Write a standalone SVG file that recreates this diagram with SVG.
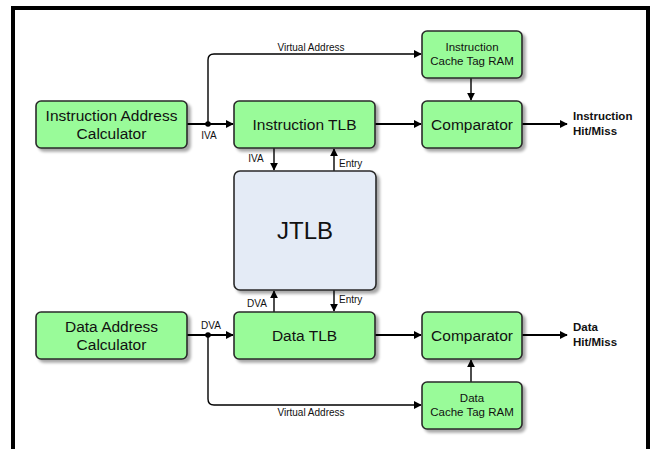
<svg xmlns="http://www.w3.org/2000/svg" width="651" height="449" viewBox="0 0 651 449">
<defs>
  <filter id="sh" x="-10%" y="-10%" width="130%" height="130%">
    <feGaussianBlur in="SourceAlpha" stdDeviation="1.5"/>
    <feOffset dx="3" dy="3" result="o"/>
    <feComponentTransfer><feFuncA type="linear" slope="0.35"/></feComponentTransfer>
    <feMerge><feMergeNode/><feMergeNode in="SourceGraphic"/></feMerge>
  </filter>
  <marker id="ah" viewBox="0 0 10 10" refX="9" refY="5" markerWidth="8" markerHeight="8" markerUnits="userSpaceOnUse" orient="auto">
    <path d="M0,0 L10,5 L0,10 z" fill="#000"/>
  </marker>
</defs>
<style>
  .box { fill: #99fb99; stroke: #2a2a2a; stroke-width: 1.6; filter: url(#sh); }
  .jt { fill: #e4ebf6; stroke: #2a2a2a; stroke-width: 1.6; filter: url(#sh); }
  .big { font-family: "Liberation Sans", Arial, sans-serif; font-size: 15.5px; fill: #111; text-anchor: middle; }
  .mid { font-family: "Liberation Sans", Arial, sans-serif; font-size: 11.5px; fill: #111; text-anchor: middle; }
  .lbl { font-family: "Liberation Sans", Arial, sans-serif; font-size: 10px; fill: #111; }
  .out { font-family: "Liberation Sans", Arial, sans-serif; font-size: 11.5px; font-weight: bold; fill: #111; }
  .w { fill: none; stroke: #000; stroke-width: 1.4; }
  .t { fill: none; stroke: #000; stroke-width: 2.2; }
</style>
<rect width="651" height="449" fill="#fff"/>
<path d="M13,449 V8 H648 V449" fill="none" stroke="#000" stroke-width="4"/>

<g id="connectors">
  <line class="t" x1="187" y1="124" x2="233" y2="124" marker-end="url(#ah)"/>
  <path class="w" d="M208,124 V60 Q208,54 214,54 H421" marker-end="url(#ah)"/>
  <circle cx="208" cy="124" r="2.8" fill="#000"/>
  <line class="t" x1="375" y1="124" x2="421" y2="124" marker-end="url(#ah)"/>
  <line class="w" x1="471" y1="78" x2="471" y2="100" marker-end="url(#ah)"/>
  <line class="t" x1="522" y1="124" x2="567" y2="124" marker-end="url(#ah)"/>
  <line class="w" x1="274" y1="148" x2="274" y2="170" marker-end="url(#ah)"/>
  <line class="w" x1="334" y1="171" x2="334" y2="149" marker-end="url(#ah)"/>
  <line class="w" x1="274" y1="312" x2="274" y2="291" marker-end="url(#ah)"/>
  <line class="w" x1="334" y1="290" x2="334" y2="311" marker-end="url(#ah)"/>
  <line class="t" x1="187" y1="335" x2="233" y2="335" marker-end="url(#ah)"/>
  <path class="w" d="M208,335 V399 Q208,405 214,405 H421" marker-end="url(#ah)"/>
  <circle cx="208" cy="335" r="2.8" fill="#000"/>
  <line class="t" x1="375" y1="335" x2="421" y2="335" marker-end="url(#ah)"/>
  <line class="w" x1="471" y1="382" x2="471" y2="360" marker-end="url(#ah)"/>
  <line class="t" x1="522" y1="335" x2="567" y2="335" marker-end="url(#ah)"/>

  <text class="lbl" x="311" y="51" text-anchor="middle">Virtual Address</text>
  <text class="lbl" x="209" y="139" text-anchor="middle">IVA</text>
  <text class="lbl" x="256" y="162" text-anchor="middle">IVA</text>
  <text class="lbl" x="339" y="167">Entry</text>
  <text class="lbl" x="257" y="307" text-anchor="middle">DVA</text>
  <text class="lbl" x="339" y="303">Entry</text>
  <text class="lbl" x="211" y="329" text-anchor="middle">DVA</text>
  <text class="lbl" x="311" y="416" text-anchor="middle">Virtual Address</text>
  <text class="out" x="573" y="120">Instruction</text>
  <text class="out" x="573" y="135">Hit/Miss</text>
  <text class="out" x="573" y="331">Data</text>
  <text class="out" x="573" y="346">Hit/Miss</text>
</g>

<g id="iac">
  <rect class="box" x="36" y="101" width="151" height="47" rx="5"/>
  <text class="big" x="111.5" y="120.5">Instruction Address</text>
  <text class="big" x="111.5" y="138.5">Calculator</text>
</g>
<g id="itlb">
  <rect class="box" x="234" y="101" width="141" height="47" rx="5"/>
  <text class="big" x="304.5" y="130">Instruction TLB</text>
</g>
<g id="cmp1">
  <rect class="box" x="422" y="101" width="100" height="47" rx="5"/>
  <text class="big" x="472" y="130">Comparator</text>
</g>
<g id="ictag">
  <rect class="box" x="422" y="31" width="100" height="47" rx="5"/>
  <text class="mid" x="472" y="51">Instruction</text>
  <text class="mid" x="472" y="65">Cache Tag RAM</text>
</g>
<g id="jtlb">
  <rect class="jt" x="234" y="171" width="142" height="119" rx="6"/>
  <text class="big" x="305" y="239" style="font-size:24px">JTLB</text>
</g>
<g id="dac">
  <rect class="box" x="36" y="312" width="151" height="47" rx="5"/>
  <text class="big" x="111.5" y="331.5">Data Address</text>
  <text class="big" x="111.5" y="349.5">Calculator</text>
</g>
<g id="dtlb">
  <rect class="box" x="234" y="312" width="141" height="47" rx="5"/>
  <text class="big" x="304.5" y="341">Data TLB</text>
</g>
<g id="cmp2">
  <rect class="box" x="422" y="312" width="100" height="47" rx="5"/>
  <text class="big" x="472" y="341">Comparator</text>
</g>
<g id="dctag">
  <rect class="box" x="422" y="382" width="100" height="47" rx="5"/>
  <text class="mid" x="472" y="402">Data</text>
  <text class="mid" x="472" y="416">Cache Tag RAM</text>
</g>
</svg>
